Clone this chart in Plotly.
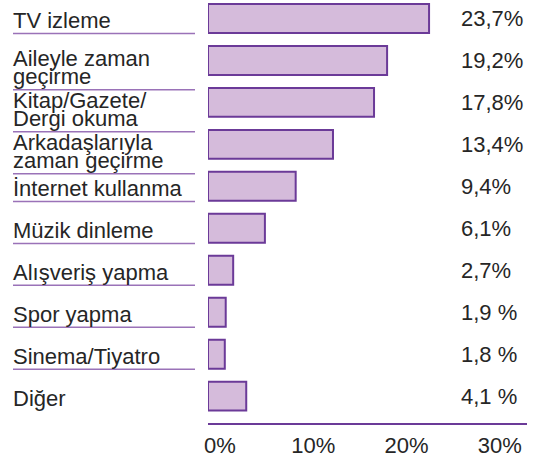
import plotly.graph_objects as go

categories = ["TV izleme", "Aileyle zaman<br>geçirme", "Kitap/Gazete/<br>Dergi okuma",
              "Arkadaşlarıyla<br>zaman geçirme", "İnternet kullanma", "Müzik dinleme",
              "Alışveriş yapma", "Spor yapma", "Sinema/Tiyatro", "Diğer"]
values = [23.7, 19.2, 17.8, 13.4, 9.4, 6.1, 2.7, 1.9, 1.8, 4.1]
value_labels = ["23,7%", "19,2%", "17,8%", "13,4%", "9,4%", "6,1%", "2,7%", "1,9 %", "1,8 %", "4,1 %"]
tick_vals = [0, 10, 20, 30]
tick_text = ["0%", "10%", "20%", "30%"]

FILL = "#d5bbdb"
EDGE = "#6b3a98"
SEP = "#9a72b8"
TXT = "#262626"
FONT = "Liberation Sans, Arial, sans-serif"
FS = 22

n = len(categories)
idx = list(range(n))

fig = go.Figure(go.Bar(
    x=values, y=idx, orientation="h", width=0.69,
    marker=dict(color=FILL, line=dict(color=EDGE, width=2)),
    hoverinfo="skip",
))

L, R = 208, 11
W = 538 - L - R
def px2paper(p):
    return (p - L) / W

annotations = []
shapes = []
for i, (cat, vl) in enumerate(zip(categories, value_labels)):
    lines = cat.split("<br>")
    m = len(lines)
    base = -2 if m == 1 else -7
    for k, ln in enumerate(lines):
        annotations.append(dict(
            x=px2paper(11), xref="paper", y=i, yref="y", text=ln,
            xanchor="left", yanchor="middle", showarrow=False,
            yshift=(((m - 1) / 2) - k) * 18 + base,
            font=dict(family=FONT, size=FS, color=TXT)))
    annotations.append(dict(
        x=px2paper(459), xref="paper", y=i, yref="y", text=vl,
        xanchor="left", yanchor="middle", showarrow=False,
        font=dict(family=FONT, size=FS, color=TXT)))
    if i < n - 1:
        off = 0.36 if m == 1 else 0.7
        shapes.append(dict(type="line", xref="paper", yref="y",
                           x0=px2paper(13), x1=px2paper(195), y0=i + off, y1=i + off,
                           line=dict(color=SEP, width=1.5)))

fig.update_layout(
    width=538, height=458,
    margin=dict(l=L, r=R, t=0, b=33),
    paper_bgcolor="white", plot_bgcolor="white",
    showlegend=False,
    annotations=annotations, shapes=shapes,
    xaxis=dict(range=[0, 34.2], tickvals=tick_vals, ticktext=tick_text,
               showgrid=False, zeroline=False, showline=True, linecolor=EDGE, linewidth=2,
               ticks="", ticklabelshift=12, ticklabelstandoff=2,
               tickfont=dict(family=FONT, size=FS, color=TXT), fixedrange=True),
    yaxis=dict(range=[9.64, -0.44], showticklabels=False, showgrid=False,
               zeroline=False, showline=False, fixedrange=True),
)

fig.write_html("out.html")
